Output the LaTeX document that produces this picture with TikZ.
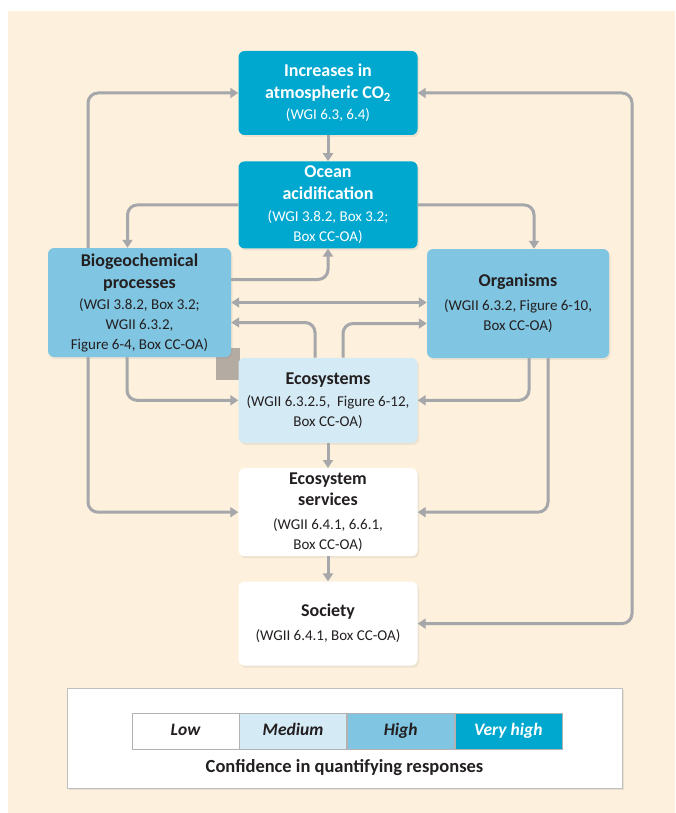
\documentclass[tikz,border=0pt]{standalone}
\usepackage{fontspec}
\setmainfont{Carlito}
\usetikzlibrary{positioning,arrows.meta,shadows}
\definecolor{cream}{HTML}{FDF0DC}
\definecolor{vhigh}{HTML}{00A8CF}
\definecolor{high}{HTML}{80C5E1}
\definecolor{med}{HTML}{D4EAF5}
\definecolor{arrowgrey}{HTML}{A5A7AA}
\definecolor{inkdark}{HTML}{231F20}
\definecolor{patchgrey}{HTML}{B4ACA3}
\newcommand{\hd}[1]{{\fontsize{18}{22}\selectfont\bfseries #1}}
\tikzset{
    caja/.style={rectangle,rounded corners=6pt,draw=none,minimum width=179pt,align=center,
        text=inkdark,font=\fontsize{15}{20}\selectfont,inner sep=2pt,
        drop shadow={opacity=0.12,shadow xshift=1.5pt,shadow yshift=-2pt}},
    muyalta/.style={caja,fill=vhigh,text=white},
    alta/.style={caja,fill=high},
    media/.style={caja,fill=med},
    baja/.style={caja,fill=white},
    flecha/.style={draw=arrowgrey,line width=3pt,rounded corners=10pt,
        -{Triangle[width=10pt,length=8pt]}},
    doble/.style={flecha,{Triangle[width=10pt,length=8pt]}-{Triangle[width=10pt,length=8pt]}},
    nivel/.style={rectangle,draw=black!30,line width=0.6pt,minimum width=107pt,minimum height=36pt,
        inner sep=0pt,text height=12.5pt,text depth=3.5pt,
        font=\fontsize{17.5}{19}\selectfont\bfseries\itshape,text=inkdark},
}
\begin{document}
\begin{tikzpicture}[x=1pt,y=-1pt]
\useasboundingbox (0,0) rectangle (675,813);
\fill[cream] (8,11) rectangle (675,813);
\fill[patchgrey] (216,348) rectangle (240,380);

% central column
\node[muyalta,minimum height=84pt] (co2) at (328,93)
    {\hd{Increases in}\\[2pt]\hd{atmospheric CO\textsubscript{2}}\\[1pt](WGI 6.3, 6.4)};
\node[muyalta,minimum height=87pt,below=26pt of co2] (ocean)
    {\hd{Ocean}\\[2pt]\hd{acidification}\\[2pt](WGI 3.8.2, Box 3.2;\\Box CC-OA)};
\node[media,minimum height=85pt,below=109pt of ocean] (eco)
    {\hd{Ecosystems}\\[2pt](WGII 6.3.2.5,~ Figure 6-12,\\Box CC-OA)};
\node[baja,minimum height=88pt,below=25pt of eco] (serv)
    {\hd{Ecosystem}\\[1pt]\hd{services}\\[4pt](WGII 6.4.1, 6.6.1,\\Box CC-OA)};
\node[baja,minimum height=84pt,below=25pt of serv] (soc)
    {\hd{Society}\\[4pt](WGII 6.4.1, Box CC-OA)};

% side boxes
\node[alta,minimum width=183pt,minimum height=109pt] (bio) at (139.5,302.5)
    {\hd{Biogeochemical}\\[2pt]\hd{processes}\\[1pt](WGI 3.8.2, Box 3.2;\\WGII 6.3.2,\\Figure 6-4, Box CC-OA)};
\node[alta,minimum width=182pt,minimum height=109pt] (org) at (518,303.5)
    {\hd{Organisms}\\[4pt](WGII 6.3.2, Figure 6-10,\\Box CC-OA)};

\coordinate (rx) at (632,350);

% connectors
\draw[flecha] (co2) -- (ocean);
\draw[flecha] (eco) -- (serv);
\draw[flecha] (serv) -- (soc);
\draw[flecha] (ocean.west) -| ([xshift=-12pt]bio.north);
\draw[flecha] (ocean.east) -| ([xshift=16pt]org.north);
\draw[flecha] ([yshift=23pt]bio.east) -| (ocean.south);
\draw[doble] (bio.east) -- (bio.east -| org.west);
\draw[flecha] ([xshift=-13pt]eco.north) |- ([yshift=-20pt]bio.east);
\draw[flecha] ([xshift=15pt]eco.north) |- ([yshift=-20pt]org.west);
\draw[flecha] ([xshift=-12.5pt]bio.south) |- (eco.west);
\draw[flecha] ([xshift=11pt]org.south) |- (eco.east);
\draw[flecha] ([xshift=-51.5pt]bio.south) |- (serv.west);
\draw[flecha] ([xshift=30pt]org.south) |- (serv.east);
\draw[flecha] ([xshift=-51.5pt]bio.north) |- (co2.west);
\draw[doble] (co2.east) -| (rx) |- (soc.east);

% legend
\node[rectangle,draw=black!25,line width=0.6pt,fill=white,minimum width=555pt,minimum height=100pt,
    drop shadow={opacity=0.15,shadow xshift=1.5pt,shadow yshift=-2pt}] (leyenda) at (344.5,738) {};
\node[nivel,fill=white] (low) at (185.5,731) {Low};
\node[nivel,fill=med,right=0pt of low] (medium) {Medium};
\node[nivel,fill=high,right=0pt of medium] (high) {High};
\node[nivel,fill=vhigh,text=white,right=0pt of high] (vhigh) {Very high};
\node[font=\fontsize{18.5}{20}\selectfont\bfseries,text=inkdark] (conf) at (344.5,768)
    {Confidence in quantifying responses};
\end{tikzpicture}
\end{document}
